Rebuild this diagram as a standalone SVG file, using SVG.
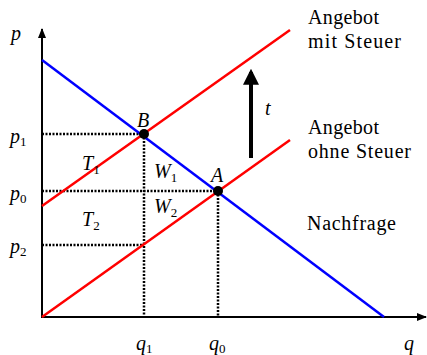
<svg xmlns="http://www.w3.org/2000/svg" width="427" height="355" viewBox="0 0 427 355">
<style>
text{font-family:"Liberation Serif","Times New Roman","DejaVu Serif",serif;font-size:20px;fill:#000}
.i{font-style:italic}
.s{font-size:13px;font-style:normal}
.dot{stroke:#000;stroke-width:2.5;stroke-dasharray:2 1.5;fill:none}
.red{stroke:#ff0000;stroke-width:2.5;fill:none}
.blue{stroke:#0000ff;stroke-width:2.5;fill:none}
</style>
<defs>
<marker id="ah" viewBox="0 0 10 10" refX="9" refY="5" markerWidth="10" markerHeight="10" markerUnits="userSpaceOnUse" orient="auto"><path d="M0,1 L10,5 L0,9 Z" fill="#000"/></marker>
<marker id="bh" viewBox="0 0 10 10" refX="8" refY="5" markerWidth="4" markerHeight="4" orient="auto"><path d="M0,0 L10,5 L0,10 Z" fill="#000"/></marker>
</defs>
<g id="axes">
<line x1="42" y1="318" x2="42" y2="29" stroke="#000" stroke-width="2" marker-end="url(#ah)"/>
<line x1="41" y1="317" x2="426" y2="317" stroke="#000" stroke-width="2" marker-end="url(#ah)"/>
</g>
<g id="connectors">
<line class="dot" x1="42" y1="134" x2="144" y2="134"/>
<line class="dot" x1="42" y1="191" x2="218" y2="191"/>
<line class="dot" x1="42" y1="245" x2="144" y2="245"/>
<line class="dot" x1="144" y1="134" x2="144" y2="317"/>
<line class="dot" x1="218" y1="191" x2="218" y2="317"/>
</g>
<g id="demand"><line class="blue" x1="42" y1="60" x2="384" y2="317"/></g>
<g id="supply"><line class="red" x1="42" y1="317" x2="290" y2="140"/></g>
<g id="supply-tax"><line class="red" x1="42" y1="206" x2="290" y2="30"/></g>
<g id="tax-arrow"><line x1="251" y1="158" x2="251" y2="72" stroke="#000" stroke-width="4" marker-end="url(#bh)"/></g>
<g id="B"><circle cx="144" cy="134" r="5"/><text class="i" x="137" y="127">B</text></g>
<g id="A"><circle cx="218" cy="191" r="5"/><text class="i" x="211" y="182">A</text></g>
<g id="labels">
<text class="i" x="11" y="40">p</text>
<text class="i" x="10" y="143">p<tspan class="s" dy="3">1</tspan></text>
<text class="i" x="10" y="200">p<tspan class="s" dy="3">0</tspan></text>
<text class="i" x="10" y="253">p<tspan class="s" dy="3">2</tspan></text>
<text class="i" x="136" y="350">q<tspan class="s" dy="3">1</tspan></text>
<text class="i" x="209" y="350">q<tspan class="s" dy="3">0</tspan></text>
<text class="i" x="404" y="350">q</text>
<text class="i" x="82" y="170">T<tspan class="s" dy="4">1</tspan></text>
<text class="i" x="82" y="226">T<tspan class="s" dy="4">2</tspan></text>
<text class="i" x="154" y="178">W<tspan class="s" dy="4">1</tspan></text>
<text class="i" x="154" y="213">W<tspan class="s" dy="4">2</tspan></text>
<text class="i" x="265" y="115">t</text>
<text x="308" y="24" textLength="71">Angebot</text>
<text x="308" y="48" textLength="93">mit Steuer</text>
<text x="308" y="134" textLength="71">Angebot</text>
<text x="308" y="158" textLength="103">ohne Steuer</text>
<text x="307" y="230" textLength="89">Nachfrage</text>
</g>
</svg>
